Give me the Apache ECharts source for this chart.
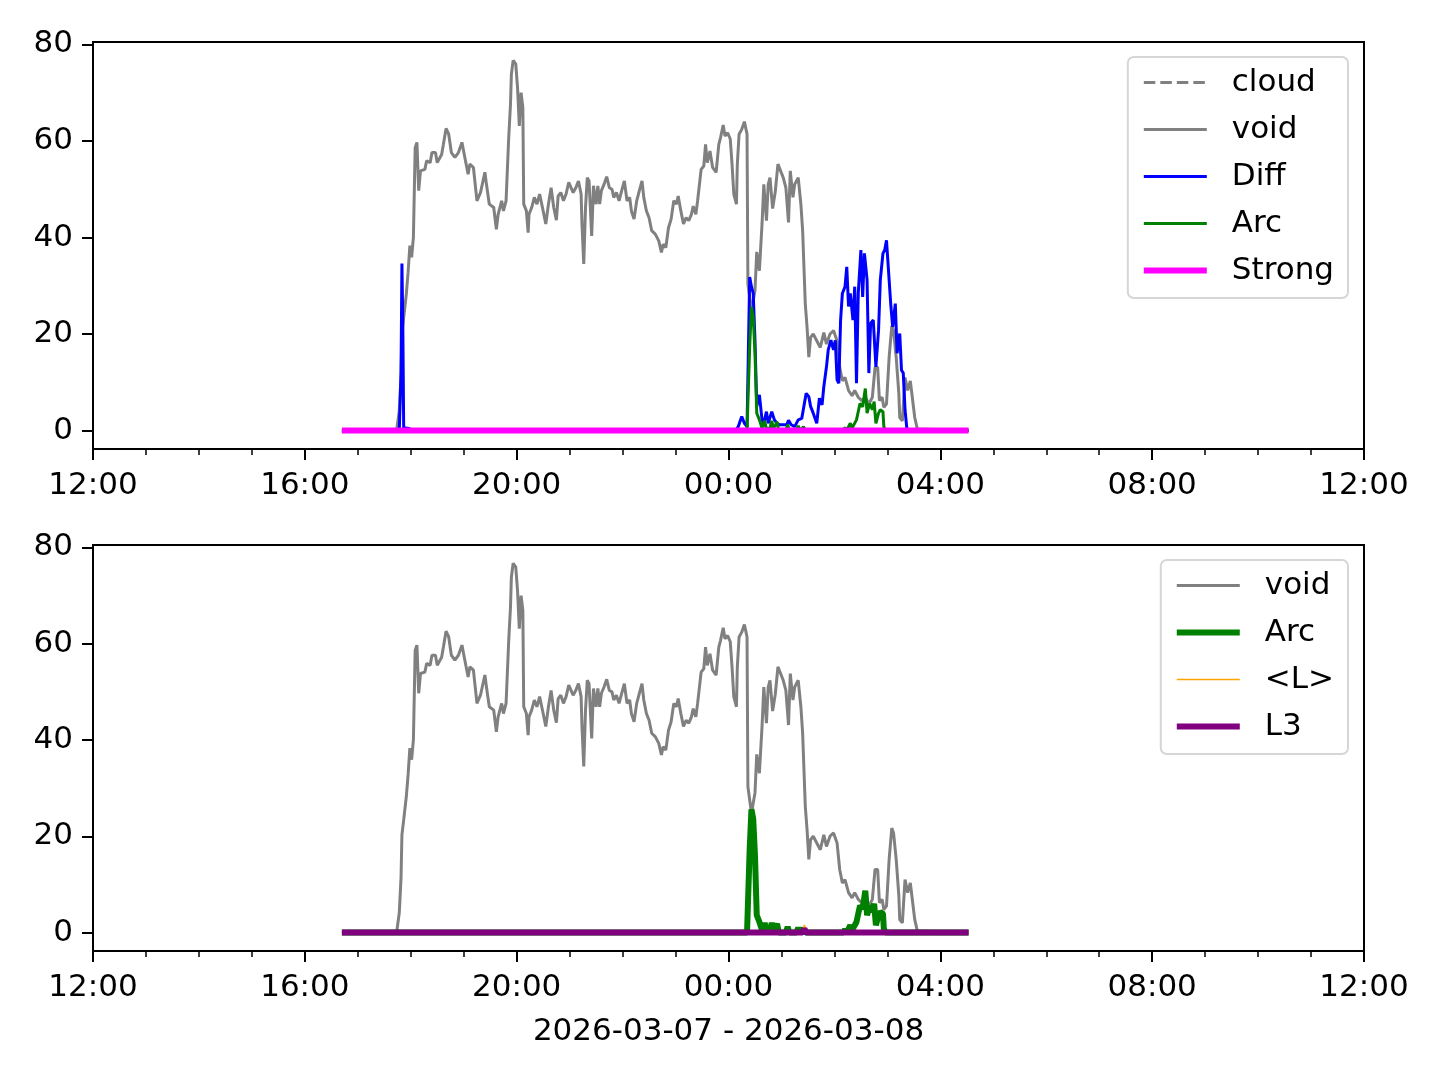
<!DOCTYPE html>
<html>
<head>
<meta charset="utf-8">
<script src="https://cdn.jsdelivr.net/npm/echarts@6/dist/echarts.min.js"></script>
<style>
  html, body { margin: 0; padding: 0; background: #fff; }
  #chart { width: 1440px; height: 1080px; }
</style>
</head>
<body>
<div id="chart"></div>
<script>
// clock times run from 2026-03-07 12:00 to 2026-03-08 12:00
const xTicks = ["12:00", "16:00", "20:00", "00:00", "04:00", "08:00", "12:00"];
const yTicks = [0, 20, 40, 60, 80];

const cloudPts = [];

const voidPts = [
  ["16:42", 0], ["17:44", 0], ["17:47", 4.1], ["17:49", 11.4], ["17:50", 20.3], ["17:52", 23.4],
  ["17:55", 28.3], ["17:57", 32.8], ["17:59", 38.3], ["18:01", 35.9], ["18:03", 40], ["18:05", 58.6],
  ["18:07", 59.7], ["18:09", 49.7], ["18:11", 53.8], ["18:16", 54.1], ["18:18", 55.9], ["18:22", 55.5],
  ["18:24", 57.6], ["18:28", 57.6], ["18:30", 55.5], ["18:35", 57.2], ["18:37", 59.3], ["18:40", 62.6],
  ["18:43", 61.4], ["18:46", 57.6], ["18:50", 56.6], ["18:54", 57.6], ["18:58", 59.7], ["19:02", 55.9],
  ["19:05", 53.1], ["19:07", 55.2], ["19:11", 54.5], ["19:15", 47.6], ["19:19", 49.3], ["19:24", 53.5],
  ["19:26", 50.7], ["19:29", 46.9], ["19:34", 46.2], ["19:37", 41.7], ["19:39", 44.8], ["19:43", 47.6],
  ["19:45", 45.5], ["19:48", 47.6], ["19:51", 60.7], ["19:53", 67.6], ["19:54", 73.8], ["19:56", 76.7],
  ["19:59", 75.9], ["20:01", 71], ["20:03", 63.1], ["20:05", 70], ["20:07", 66.9], ["20:08", 46.9],
  ["20:11", 45.5], ["20:13", 41], ["20:14", 44.8], ["20:17", 46.2], ["20:20", 48.3], ["20:23", 46.9],
  ["20:26", 49], ["20:28", 49], ["20:30", 45.5], ["20:33", 42.8], ["20:36", 46.9], ["20:39", 50.3],
  ["20:42", 46.2], ["20:45", 43.6], ["20:47", 48.6], ["20:50", 49.3], ["20:53", 47.6], ["20:56", 49],
  ["20:59", 51.4], ["21:01", 51], ["21:04", 49.3], ["21:07", 50.3], ["21:10", 51.7], ["21:13", 49],
  ["21:14", 42.8], ["21:16", 34.5], ["21:18", 46.2], ["21:20", 52.4], ["21:22", 51.7], ["21:25", 40.3],
  ["21:27", 50.7], ["21:30", 46.9], ["21:32", 50.7], ["21:34", 46.9], ["21:36", 49.7], ["21:39", 51],
  ["21:42", 52.6], ["21:45", 50.3], ["21:48", 50], ["21:50", 48.3], ["21:53", 49.3], ["21:56", 47.6],
  ["21:59", 49.7], ["22:02", 51.7], ["22:05", 47.6], ["22:08", 48.3], ["22:10", 45.5], ["22:13", 43.8],
  ["22:16", 47.6], ["22:19", 49.7], ["22:22", 51.7], ["22:24", 48.3], ["22:27", 45.5], ["22:30", 44.1],
  ["22:33", 41.4], ["22:37", 40.7], ["22:41", 39.3], ["22:44", 36.9], ["22:46", 38.6], ["22:49", 37.9],
  ["22:52", 42], ["22:55", 43.8], ["22:58", 47.6], ["23:01", 46.9], ["23:03", 48.6], ["23:06", 45.5],
  ["23:09", 42.8], ["23:12", 44.1], ["23:15", 43.5], ["23:18", 44.8], ["23:20", 46.5], ["23:23", 44.8],
  ["23:25", 47.6], ["23:29", 54.1], ["23:32", 54.8], ["23:34", 59.3], ["23:36", 55.5], ["23:39", 57.9],
  ["23:42", 54.5], ["23:46", 53.5], ["23:49", 59.3], ["23:51", 60.7], ["23:54", 63.3], ["23:56", 61],
  ["23:59", 61.7], ["00:02", 60.4], ["00:04", 55.2], ["00:06", 49], ["00:09", 46.9], ["00:10", 55.2],
  ["00:12", 61.4], ["00:15", 62.4], ["00:18", 64], ["00:21", 61.4], ["00:22", 30.3], ["00:26", 24.8],
  ["00:30", 29], ["00:32", 37], ["00:35", 33.1], ["00:38", 42.8], ["00:40", 51], ["00:43", 43.5],
  ["00:45", 51], ["00:47", 52.4], ["00:50", 46], ["00:53", 49.5], ["00:56", 55.2], ["00:59", 53.8],
  ["01:02", 52.4], ["01:05", 50.3], ["01:08", 43.1], ["01:10", 53.8], ["01:13", 48.3], ["01:15", 51],
  ["01:19", 52.4], ["01:22", 46.9], ["01:24", 41.4], ["01:27", 26.2], ["01:29", 21.4], ["01:31", 15.2],
  ["01:33", 19.3], ["01:36", 20], ["01:40", 18.6], ["01:44", 17.2], ["01:48", 20.3], ["01:51", 17.9],
  ["01:55", 20], ["01:59", 20.7], ["02:03", 18.6], ["02:06", 13.1], ["02:09", 10.3], ["02:12", 11],
  ["02:16", 8.3], ["02:20", 7.2], ["02:23", 8.3], ["02:27", 6.9], ["02:31", 6.2], ["02:35", 6.9],
  ["02:39", 5.5], ["02:43", 6.9], ["02:46", 13.1], ["02:49", 13.1], ["02:51", 6.2], ["02:54", 6.9],
  ["02:56", 4.8], ["02:59", 5.5], ["03:02", 15.2], ["03:05", 21.7], ["03:07", 20.7], ["03:10", 15.2],
  ["03:13", 7.6], ["03:14", 2.7], ["03:17", 2], ["03:20", 11], ["03:23", 8.3], ["03:26", 10.3],
  ["03:28", 10.3], ["03:31", 2.7], ["03:34", 0.3], ["03:36", 0], ["04:32", 0]
];

const diffPts = [
  ["16:42", 0], ["17:47", 0], ["17:49", 12], ["17:50", 34.6], ["17:51", 22], ["17:52", 0.6],
  ["17:58", 0.4], ["18:05", 0], ["00:08", 0], ["00:11", 0.8], ["00:15", 2.9], ["00:18", 1.5],
  ["00:21", 0.8], ["00:24", 31.8], ["00:26", 29.8], ["00:28", 28.4], ["00:30", 18.7], ["00:32", 5],
  ["00:35", 7.4], ["00:38", 2.2], ["00:40", 1.5], ["00:43", 3.9], ["00:45", 1.5], ["00:49", 3.9],
  ["00:52", 2.2], ["00:55", 1.5], ["00:58", 1.2], ["01:02", 1.2], ["01:06", 1.2], ["01:08", 2.1],
  ["01:11", 1.2], ["01:15", 0.8], ["01:19", 2.2], ["01:23", 2.5], ["01:28", 7.7], ["01:31", 7],
  ["01:33", 5], ["01:36", 3.6], ["01:40", 1.5], ["01:43", 6.7], ["01:46", 5.3], ["01:48", 9.1],
  ["01:51", 13.2], ["01:53", 16.7], ["01:56", 18.7], ["01:59", 16.7], ["02:01", 18.7], ["02:03", 10.5],
  ["02:05", 9.8], ["02:07", 22.9], ["02:09", 28.4], ["02:12", 29.8], ["02:14", 33.9], ["02:16", 25.7],
  ["02:18", 28.4], ["02:21", 22.9], ["02:23", 29.8], ["02:25", 9.8], ["02:27", 28.4], ["02:30", 37.4],
  ["02:32", 27.7], ["02:34", 36.7], ["02:37", 31.2], ["02:39", 11.9], ["02:41", 22.2], ["02:44", 22.9],
  ["02:47", 13.2], ["02:50", 20.8], ["02:52", 31.2], ["02:55", 36.7], ["02:57", 37.4], ["02:59", 39.4],
  ["03:01", 33.9], ["03:04", 25.7], ["03:06", 21.5], ["03:09", 26.3], ["03:11", 16], ["03:14", 20.1],
  ["03:16", 12.5], ["03:18", 11.9], ["03:20", 4.3], ["03:22", 0.5], ["03:24", 0], ["04:32", 0]
];

const arcPts = [
  ["16:42", 0], ["00:21", 0], ["00:22", 0.3], ["00:24", 17.4], ["00:26", 25.6], ["00:28", 23.6],
  ["00:30", 16], ["00:32", 3.6], ["00:35", 2.2], ["00:38", 0.5], ["00:41", 2], ["00:43", 0.3],
  ["00:47", 0.5], ["00:49", 2], ["00:51", 0.4], ["00:55", 1.8], ["00:57", 0], ["01:05", 0],
  ["01:07", 1.2], ["01:09", 0], ["01:17", 0], ["01:19", 1], ["01:21", 0], ["01:23", 0],
  ["01:25", 0.8], ["01:27", 0], ["02:10", 0], ["02:12", 0.6], ["02:14", 0], ["02:16", 0.3],
  ["02:18", 1.5], ["02:20", 0.5], ["02:22", 0.5], ["02:25", 2.2], ["02:29", 5.6], ["02:32", 4.9],
  ["02:35", 8.7], ["02:37", 3.6], ["02:40", 5.6], ["02:43", 4.3], ["02:45", 6], ["02:47", 1.5],
  ["02:50", 3.6], ["02:52", 4.3], ["02:55", 3.9], ["02:56", 0.8], ["02:58", 0], ["04:32", 0]
];

const strongPts = [["16:42", 0], ["04:32", 0]];
const lMeanPts = [["16:42", 0], ["01:24", 0], ["01:26", 1.6], ["01:28", 0], ["04:32", 0]];
const l3Pts = [["16:42", 0], ["01:24", 0], ["01:26", 0.8], ["01:28", 0], ["04:32", 0]];

const FONT = "DejaVu Sans";

// minutes after 12:00 on the first day
function toMin(t) {
  let [h, m] = t.split(":").map(Number);
  if (h < 12) h += 24;
  return (h - 12) * 60 + m;
}
function toClock(min) {
  let h = (Math.floor(min / 60) + 12) % 24;
  let m = min % 60;
  return String(h).padStart(2, "0") + ":" + String(m).padStart(2, "0");
}
function pts(arr) {
  return arr.map(p => [toMin(p[0]), p[1]]);
}

function xAxisOf(gridIndex, name) {
  return {
    type: "value",
    gridIndex: gridIndex,
    min: toMin(xTicks[0]),
    max: toMin(xTicks[0]) + 1440,
    interval: 240,
    name: name || "",
    nameLocation: "middle",
    nameGap: 65,
    nameTextStyle: { color: "#000", fontSize: 31, fontFamily: FONT },
    axisLine: { show: true, onZero: false, lineStyle: { color: "#000", width: 2 } },
    axisTick: { show: true, length: 11, lineStyle: { color: "#000", width: 2 } },
    minorTick: { show: true, splitNumber: 4, length: 6, lineStyle: { color: "#000", width: 1.5 } },
    splitLine: { show: false },
    axisLabel: {
      color: "#000", fontSize: 31, fontFamily: FONT, margin: 21,
      formatter: v => toClock(v)
    }
  };
}
function yAxisOf(gridIndex) {
  return {
    type: "value",
    gridIndex: gridIndex,
    min: -3.83,
    max: 80.5,
    axisLine: { show: true, onZero: false, lineStyle: { color: "#000", width: 2 } },
    axisTick: { show: true, length: 11, customValues: yTicks, lineStyle: { color: "#000", width: 2 } },
    splitLine: { show: false },
    axisLabel: { color: "#000", fontSize: 31, fontFamily: FONT, margin: 20, customValues: yTicks }
  };
}
function lineOf(name, data, color, width, gi, dash) {
  return {
    name: name,
    type: "line",
    xAxisIndex: gi,
    yAxisIndex: gi,
    data: pts(data),
    showSymbol: false,
    symbol: "none",
    smooth: false,
    lineStyle: { color: color, width: width, type: dash || "solid" },
    itemStyle: { color: color },
    emphasis: { disabled: true }
  };
}
// legend entry: line only, no marker
function key(name, color, width, dash) {
  return { name: name, lineStyle: { color: color, width: width, type: dash || "solid" } };
}

const legendBase = {
  orient: "vertical",
  right: 92,
  itemWidth: 63,
  itemHeight: 20,
  itemGap: 16,
  backgroundColor: "#fff",
  borderColor: "#d6d6d6",
  borderWidth: 2,
  borderRadius: 6,
  selectedMode: false,
  itemStyle: { opacity: 0, borderWidth: 0 },
  textStyle: { color: "#000", fontSize: 31, fontFamily: FONT, lineHeight: 31, padding: [0, 0, 0, 20] }
};

let mychart = echarts.init(document.getElementById("chart"), null, { renderer: "canvas" });
let option = {
  animation: false,
  backgroundColor: "#fff",
  grid: [
    { left: 93, right: 76, top: 42, height: 407, show: true, borderColor: "#000", borderWidth: 2, outerBoundsMode: "none" },
    { left: 93, right: 76, top: 545, height: 406, show: true, borderColor: "#000", borderWidth: 2, outerBoundsMode: "none" }
  ],
  xAxis: [xAxisOf(0), xAxisOf(1, "2026-03-07 - 2026-03-08")],
  yAxis: [yAxisOf(0), yAxisOf(1)],
  legend: [
    Object.assign({}, legendBase, {
      top: 57,
      padding: [10, 14, 12, 13],
      data: [
        key("cloud", "#808080", 3, [11.5, 5]),
        key("void", "#808080", 3),
        key("Diff", "#0000FF", 3),
        key("Arc", "#008000", 3),
        key("Strong", "#FF00FF", 6)
      ]
    }),
    Object.assign({}, legendBase, {
      top: 560,
      padding: [10, 14, 12, 13],
      data: [
        key("void", "#808080", 3),
        key("Arc", "#008000", 6),
        key("<L>", "#FFA500", 1.6),
        key("L3", "#800080", 6)
      ]
    })
  ],
  series: [
    lineOf("cloud", cloudPts, "#808080", 3, 0, [11.5, 5]),
    lineOf("void", voidPts, "#808080", 3, 0),
    lineOf("Diff", diffPts, "#0000FF", 3, 0),
    lineOf("Arc", arcPts, "#008000", 3, 0),
    lineOf("Strong", strongPts, "#FF00FF", 6, 0),
    lineOf("void", voidPts, "#808080", 3, 1),
    lineOf("Arc", arcPts, "#008000", 6, 1),
    lineOf("<L>", lMeanPts, "#FFA500", 1.6, 1),
    lineOf("L3", l3Pts, "#800080", 6, 1)
  ]
};
mychart.setOption(option);
</script>
</body>
</html>
